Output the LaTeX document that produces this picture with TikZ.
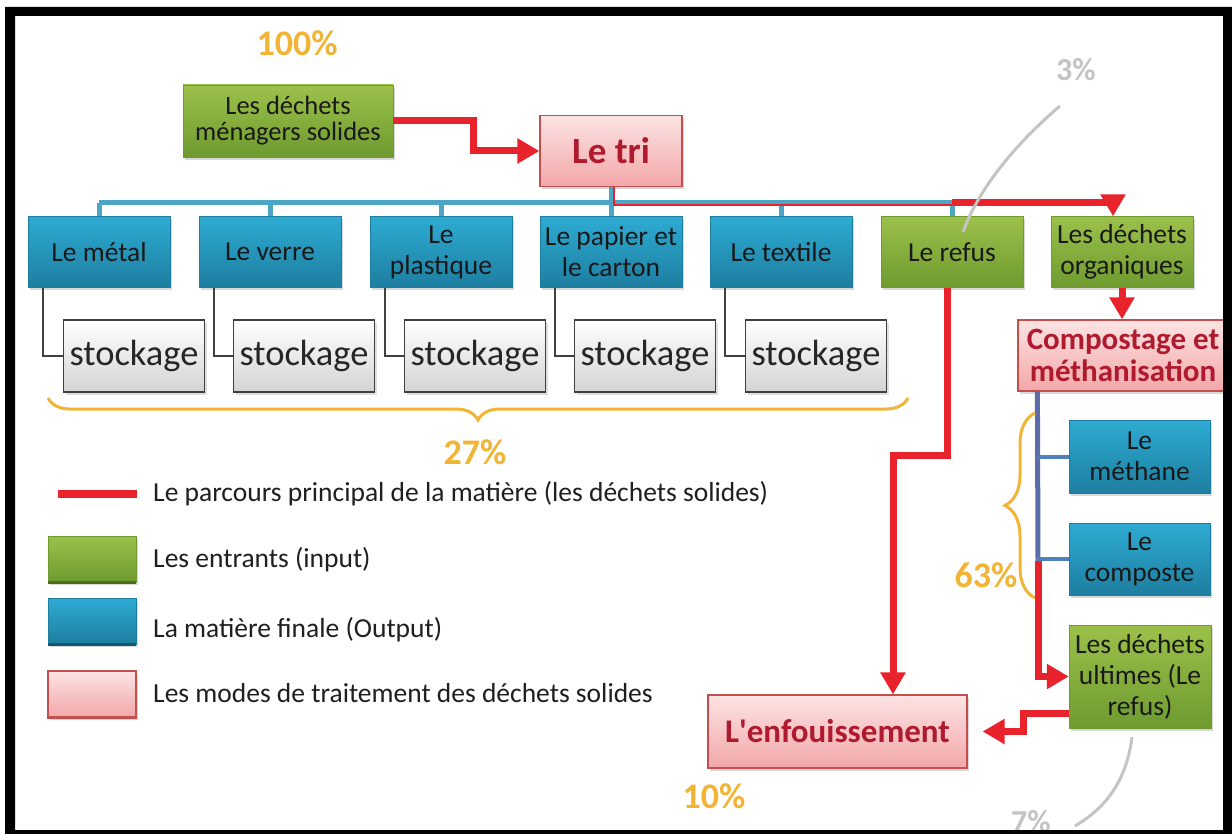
\documentclass[tikz,border=0pt]{standalone}
\usepackage{fontspec}
\setmainfont{Carlito}
\usetikzlibrary{arrows.meta}
\usetikzlibrary{positioning}
\usetikzlibrary{decorations.pathreplacing}
\usetikzlibrary{shadows}
\definecolor{ingreen}{HTML}{9CC14B}
\definecolor{ingreendk}{HTML}{6E9A2F}
\definecolor{outblue}{HTML}{2EABD3}
\definecolor{outbluedk}{HTML}{1D7EA0}
\definecolor{modepink}{HTML}{FCE3E3}
\definecolor{modepinkdk}{HTML}{F3A7A9}
\definecolor{modeedge}{HTML}{C0504D}
\definecolor{modetext}{HTML}{B01A2E}
\definecolor{pathred}{HTML}{E8232B}
\definecolor{linkblue}{HTML}{4BA6C6}
\definecolor{trunkblue}{HTML}{5B6CA8}
\definecolor{stubblue}{HTML}{4F7FBD}
\definecolor{pctgold}{HTML}{F1B434}
\definecolor{pctgray}{HTML}{C4C4C4}
\tikzset{box/.style = {minimum width=142, minimum height=71, align=center, inner sep=0,
    font=\fontsize{27.5}{31}\selectfont, text=black!90,
    drop shadow={shadow xshift=2pt, shadow yshift=-3pt, opacity=0.3}}}
\tikzset{inbox/.style = {box, top color=ingreen, bottom color=ingreendk, draw=ingreendk}}
\tikzset{outbox/.style = {box, top color=outblue, bottom color=outbluedk, draw=outbluedk}}
\tikzset{modebox/.style = {box, top color=modepink, bottom color=modepinkdk, draw=modeedge,
    line width=1.2, text=modetext}}
\tikzset{stockbox/.style = {minimum width=141, minimum height=72, inner sep=0,
    top color=white, bottom color=black!17, draw=black!75, line width=1.5,
    font=\fontsize{36.5}{40}\selectfont, text=black!85,
    drop shadow={shadow xshift=2pt, shadow yshift=-3pt, opacity=0.25}}}
\tikzset{pct/.style = {text=pctgold, font=\bfseries\fontsize{36}{40}\selectfont}}
\tikzset{pctg/.style = {text=pctgray, font=\bfseries\fontsize{32}{36}\selectfont}}
\tikzset{redpath/.style = {draw=pathred, line width=7, -{Triangle[length=22pt, width=24pt]}}}
\tikzset{bluelink/.style = {draw=linkblue, line width=5}}
\tikzset{stocklink/.style = {draw=black!75, line width=1.6}}
\tikzset{bracey/.style = {draw=pctgold, line width=3, decorate, decoration={brace, amplitude=#1}}}
\tikzset{graycurve/.style = {draw=pctgray, line width=3}}
\tikzset{legtext/.style = {anchor=west, inner sep=0, font=\fontsize{27.5}{30}\selectfont, text=black!88}}
\tikzset{legedge/.style = {line width=3}}

\begin{document}
\begin{tikzpicture}[x=1pt, y=-1pt]
\useasboundingbox (0,0) rectangle (1232,834);
\fill [white] (0,0) rectangle (1232,834);

% top of the tree
\node [pct] (p100) at (297,43) {100\%};
\node [inbox, minimum width=210, minimum height=72, font=\fontsize{26.5}{26}\selectfont] (menagers) at (288,121) {Les déchets\\ménagers solides};
\node [modebox, font=\bfseries\fontsize{37}{40}\selectfont] (tri) at (611,151) {Le tri};

% the sorted streams
\node [outbox] (metal) at (99,252) {Le métal};
\node [outbox] (verre) at (270,252) {Le verre};
\node [outbox] (plastique) at (441,252) {Le\\plastique};
\node [outbox] (papier) at (611,252) {Le papier et\\le carton};
\node [outbox] (textile) at (781,252) {Le textile};
\node [inbox] (refus) at (952,252) {Le refus};
\node [inbox] (organiques) at (1122,252) {Les déchets\\organiques};

\coordinate (bus) at (0,203);
\draw [bluelink] (tri.south) -- (tri.south |- bus);
\draw [bluelink] (metal.north |- bus) -- (refus.north |- bus);
\foreach \n in {metal, verre, plastique, papier, textile, refus}
  \draw [bluelink] (\n.north |- bus) -- (\n.north);

% stockage row
\foreach \s/\b [count=\i] in {134/metal, 304/verre, 475/plastique, 645/papier, 816/textile} {
  \node [stockbox] (stock\i) at (\s,356) {stockage};
  \draw [stocklink] ([xshift=15]\b.south west) |- (stock\i.west);
}
\coordinate (bra) at (908,398);
\coordinate (brb) at (48,398);
\draw [bracey=22] (bra) -- (brb);
\node [pct] (p27) at (475,452) {27\%};

% right column
\node [modebox, minimum width=210, font=\bfseries\fontsize{31}{32}\selectfont] (compost) at (1123,355.5) {Compostage et\\méthanisation};
\node [outbox, minimum width=141, minimum height=73] (methane) at (1139.5,456.5) {Le\\méthane};
\node [outbox, minimum width=141, minimum height=72] (composte) at (1139.5,559) {Le\\composte};
\node [inbox, minimum height=103] (ultimes) at (1140,676.5) {Les déchets\\ultimes (Le\\refus)};
\node [modebox, minimum width=259, minimum height=73, font=\bfseries\fontsize{33}{36}\selectfont] (enfouis) at (837.5,731.5) {L\textquotesingle enfouissement};

\coordinate (trunk) at ([xshift=20]compost.south west);
\coordinate (trunkend) at (1038,561);
\draw [draw=trunkblue, line width=5] (trunk) -- (trunkend);
\draw [draw=stubblue, line width=4] (trunk |- methane.west) -- (methane.west);
\draw [draw=stubblue, line width=4] (trunk |- composte.west) -- (composte.west);
\draw [bracey=30] (1035,598) -- (1035,413);
\node [pct] (p63) at (986,575) {63\%};

% main path of the matter
\coordinate (bendA) at (473,121);
\draw [redpath] (menagers.east) -- (bendA) |- (tri.west);
\draw [draw=pathred, line width=1.5] ([xshift=3]tri.south) |- ([yshift=-2]refus.north |- bus);
\draw [redpath] (refus.north |- bus) -| ([xshift=-9]organiques.north);
\draw [redpath] (organiques.south) -- (organiques.south |- compost.north);
\coordinate (bendB) at (947,455);
\coordinate (bendC) at (893,455);
\draw [redpath] ([xshift=-5]refus.south) -- (bendB) -- (bendC) -- (bendC |- enfouis.north);
\draw [redpath] (trunkend) |- (ultimes.west);
\coordinate (bendD) at (1023,713);
\draw [redpath] (ultimes.west |- bendD) -- (bendD) |- ([xshift=15]enfouis.east);
\node [pct] (p10) at (714,796) {10\%};

% grey shares
\node [pctg] (p3) at (1076,70) {3\%};
\coordinate (c3a) at (1060,106);
\coordinate (c3b) at (963,232);
\draw [graycurve] (c3a) .. controls (1020,140) and (980,185) .. (c3b);
\node [pctg] (p7) at (1031,822) {7\%};
\coordinate (c7a) at (1132,737);
\coordinate (c7b) at (1075,826);
\draw [graycurve] (c7a) .. controls (1126,785) and (1102,810) .. (c7b);

% legend
\coordinate (lega) at (58,494);
\coordinate (legb) at (137,494);
\draw [draw=pathred, line width=8] (lega) -- (legb);
\node [legtext] (leg1) at (153,494) {Le parcours principal de la matière (les déchets solides)};
\node [inbox, minimum width=88, minimum height=46] (legin) at (92,559) {};
\draw [legedge, draw=ingreendk!70!black] (legin.south west) -- (legin.south east);
\node [legtext] (leg2) at (153,560) {Les entrants (input)};
\node [outbox, minimum width=88, minimum height=46] (legout) at (92,621) {};
\draw [legedge, draw=outbluedk!70!black] (legout.south west) -- (legout.south east);
\node [legtext] (leg3) at (153,630) {La matière finale (Output)};
\node [modebox, minimum width=88, minimum height=46] (legmode) at (92,694) {};
\draw [legedge, draw=modeedge] (legmode.south west) -- (legmode.south east);
\node [legtext] (leg4) at (153,693) {Les modes de traitement des déchets solides};

% frame
\fill [black, even odd rule] (5,7) rectangle (1232,834) (15,16) rectangle (1223,830);
\end{tikzpicture}
\end{document}
